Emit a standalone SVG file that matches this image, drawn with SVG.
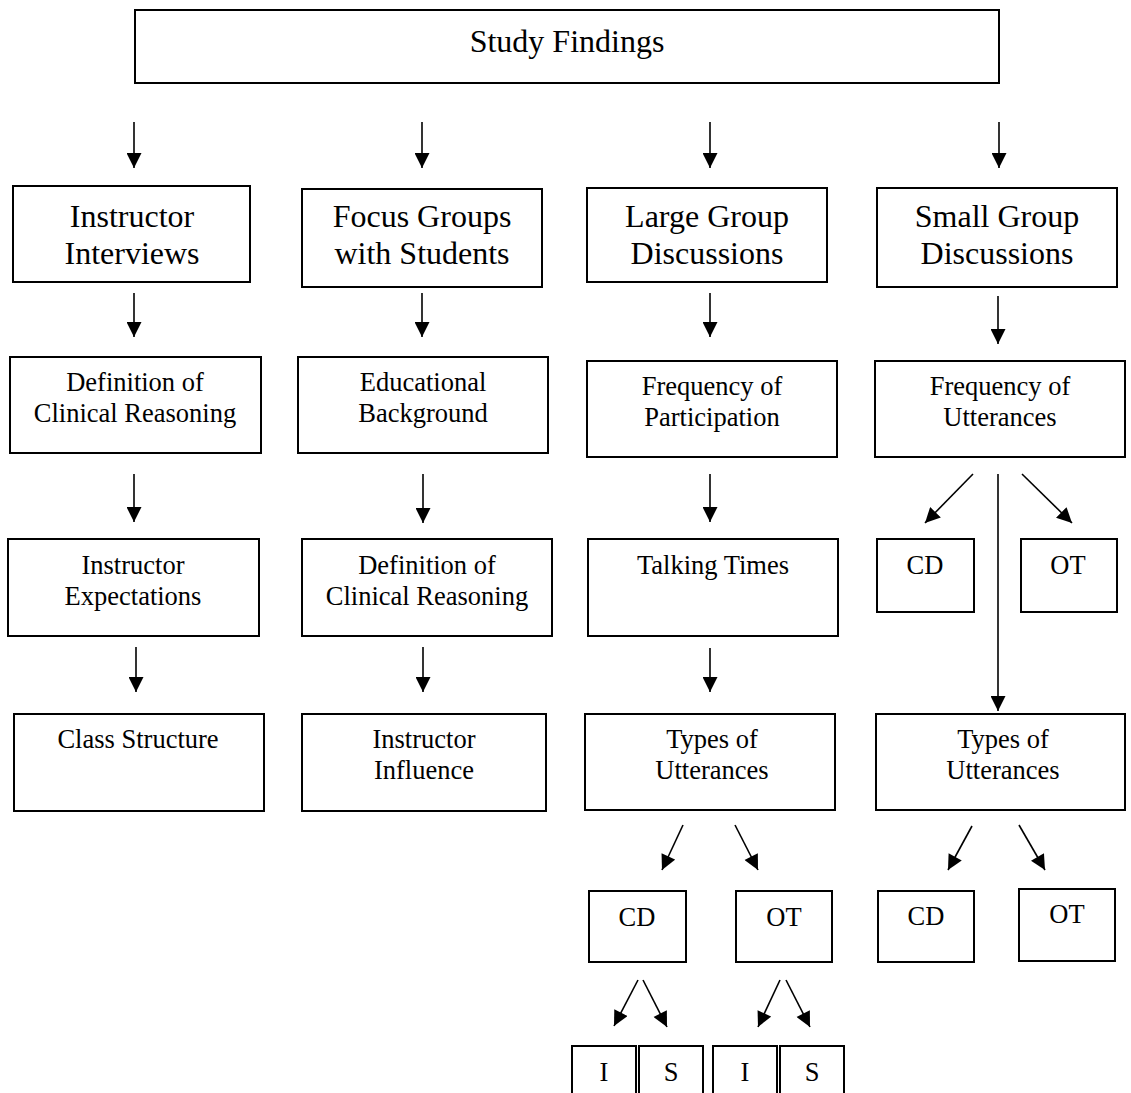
<svg xmlns="http://www.w3.org/2000/svg" width="1131" height="1093" viewBox="0 0 1131 1093">
<style>
.box{fill:#fff;stroke:#000;stroke-width:2}
.t1{font-family:"Liberation Serif","Times New Roman",serif;font-size:32px;fill:#000;text-anchor:middle}
.t2{font-family:"Liberation Serif","Times New Roman",serif;font-size:26.5px;fill:#000;text-anchor:middle}
.c{stroke:#000;stroke-width:1.6;fill:none;marker-end:url(#ah)}
.l{stroke:#000;stroke-width:1.6;fill:none}
</style>
<defs>
<marker id="ah" markerUnits="userSpaceOnUse" viewBox="0 0 16 16" refX="16" refY="8" markerWidth="16" markerHeight="15" orient="auto">
<path d="M0,0 L16,8 L0,16 z" fill="#000"/>
</marker>
</defs>
<rect width="1131" height="1093" fill="#fff"/>
<g id="connectors">
<line class="c" x1="134" y1="122" x2="134" y2="168"/>
<line class="c" x1="422" y1="122" x2="422" y2="168"/>
<line class="c" x1="710" y1="122" x2="710" y2="168"/>
<line class="c" x1="999" y1="122" x2="999" y2="168"/>
<line class="c" x1="134" y1="293" x2="134" y2="337"/>
<line class="c" x1="422" y1="293" x2="422" y2="337"/>
<line class="c" x1="710" y1="293" x2="710" y2="337"/>
<line class="c" x1="998" y1="296" x2="998" y2="344"/>
<line class="c" x1="134" y1="474" x2="134" y2="522"/>
<line class="c" x1="423" y1="474" x2="423" y2="523"/>
<line class="c" x1="710" y1="474" x2="710" y2="522"/>
<line class="c" x1="973" y1="474" x2="925" y2="523"/>
<line class="c" x1="1022" y1="474" x2="1072" y2="523"/>
<line class="c" x1="998" y1="474" x2="998" y2="711"/>
<line class="c" x1="136" y1="647" x2="136" y2="692"/>
<line class="c" x1="423" y1="647" x2="423" y2="692"/>
<line class="c" x1="710" y1="648" x2="710" y2="692"/>
<line class="c" x1="683" y1="825" x2="662" y2="870"/>
<line class="c" x1="735" y1="825" x2="758" y2="870"/>
<line class="c" x1="972" y1="826" x2="948" y2="870"/>
<line class="c" x1="1019" y1="825" x2="1045" y2="870"/>
<line class="c" x1="638" y1="980" x2="614" y2="1026"/>
<line class="c" x1="643" y1="980" x2="667" y2="1027"/>
<line class="c" x1="780" y1="980" x2="758" y2="1027"/>
<line class="c" x1="786" y1="980" x2="810" y2="1027"/>
</g>
<g id="study-findings">
<rect class="box" x="135" y="10" width="864" height="73"/>
<text class="t1" x="567" y="52">Study Findings</text>
</g>
<g id="instructor-interviews">
<rect class="box" x="13" y="186" width="237" height="96"/>
<text class="t1" x="132" y="227">Instructor</text>
<text class="t1" x="132" y="264">Interviews</text>
</g>
<g id="focus-groups">
<rect class="box" x="302" y="189" width="240" height="98"/>
<text class="t1" x="422" y="227">Focus Groups</text>
<text class="t1" x="422" y="264">with Students</text>
</g>
<g id="large-group">
<rect class="box" x="587" y="188" width="240" height="94"/>
<text class="t1" x="707" y="227">Large Group</text>
<text class="t1" x="707" y="264">Discussions</text>
</g>
<g id="small-group">
<rect class="box" x="877" y="188" width="240" height="99"/>
<text class="t1" x="997" y="227">Small Group</text>
<text class="t1" x="997" y="264">Discussions</text>
</g>
<g id="def-clinical-1">
<rect class="box" x="10" y="357" width="251" height="96"/>
<text class="t2" x="135" y="391">Definition of</text>
<text class="t2" x="135" y="422">Clinical Reasoning</text>
</g>
<g id="educational-background">
<rect class="box" x="298" y="357" width="250" height="96"/>
<text class="t2" x="423" y="391">Educational</text>
<text class="t2" x="423" y="422">Background</text>
</g>
<g id="freq-participation">
<rect class="box" x="587" y="361" width="250" height="96"/>
<text class="t2" x="712" y="395">Frequency of</text>
<text class="t2" x="712" y="426">Participation</text>
</g>
<g id="freq-utterances">
<rect class="box" x="875" y="361" width="250" height="96"/>
<text class="t2" x="1000" y="395">Frequency of</text>
<text class="t2" x="1000" y="426">Utterances</text>
</g>
<g id="instructor-expectations">
<rect class="box" x="8" y="539" width="251" height="97"/>
<text class="t2" x="133" y="574">Instructor</text>
<text class="t2" x="133" y="605">Expectations</text>
</g>
<g id="def-clinical-2">
<rect class="box" x="302" y="539" width="250" height="97"/>
<text class="t2" x="427" y="574">Definition of</text>
<text class="t2" x="427" y="605">Clinical Reasoning</text>
</g>
<g id="talking-times">
<rect class="box" x="588" y="539" width="250" height="97"/>
<text class="t2" x="713" y="574">Talking Times</text>
</g>
<g id="cd-small-1">
<rect class="box" x="877" y="539" width="97" height="73"/>
<text class="t2" x="925" y="574">CD</text>
</g>
<g id="ot-small-1">
<rect class="box" x="1021" y="539" width="96" height="73"/>
<text class="t2" x="1068" y="574">OT</text>
</g>
<g id="class-structure">
<rect class="box" x="14" y="714" width="250" height="97"/>
<text class="t2" x="138" y="748">Class Structure</text>
</g>
<g id="instructor-influence">
<rect class="box" x="302" y="714" width="244" height="97"/>
<text class="t2" x="424" y="748">Instructor</text>
<text class="t2" x="424" y="779">Influence</text>
</g>
<g id="types-large">
<rect class="box" x="585" y="714" width="250" height="96"/>
<text class="t2" x="712" y="748">Types of</text>
<text class="t2" x="712" y="779">Utterances</text>
</g>
<g id="types-small">
<rect class="box" x="876" y="714" width="249" height="96"/>
<text class="t2" x="1003" y="748">Types of</text>
<text class="t2" x="1003" y="779">Utterances</text>
</g>
<g id="cd-large">
<rect class="box" x="589" y="891" width="97" height="71"/>
<text class="t2" x="637" y="926">CD</text>
</g>
<g id="ot-large">
<rect class="box" x="736" y="891" width="96" height="71"/>
<text class="t2" x="784" y="926">OT</text>
</g>
<g id="cd-small-2">
<rect class="box" x="878" y="891" width="96" height="71"/>
<text class="t2" x="926" y="925">CD</text>
</g>
<g id="ot-small-2">
<rect class="box" x="1019" y="889" width="96" height="72" stroke-width="2.5"/>
<text class="t2" x="1067" y="923">OT</text>
</g>
<g id="cd-i">
<rect class="box" x="572" y="1046" width="64" height="60"/>
<text class="t2" x="604" y="1081">I</text>
</g>
<g id="cd-s">
<rect class="box" x="639" y="1046" width="64" height="60"/>
<text class="t2" x="671" y="1081">S</text>
</g>
<g id="ot-i">
<rect class="box" x="713" y="1046" width="64" height="60"/>
<text class="t2" x="745" y="1081">I</text>
</g>
<g id="ot-s">
<rect class="box" x="780" y="1046" width="64" height="60"/>
<text class="t2" x="812" y="1081">S</text>
</g>
</svg>
